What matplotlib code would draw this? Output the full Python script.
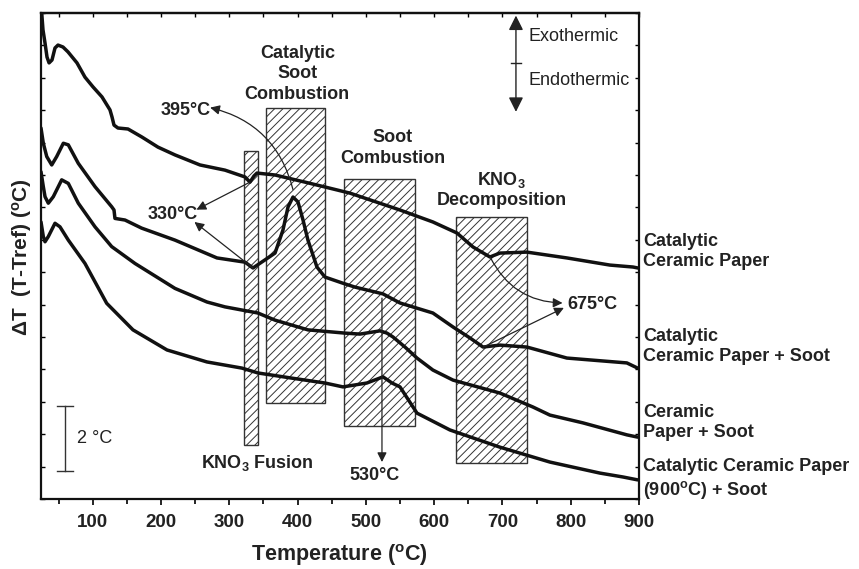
import numpy as np
import matplotlib
matplotlib.use("Agg")
import matplotlib.pyplot as plt
from matplotlib.patches import Rectangle
from matplotlib.ticker import MultipleLocator

plt.rcParams['font.family'] = ['Liberation Sans', 'DejaVu Sans']
plt.rcParams['mathtext.fontset'] = 'custom'
plt.rcParams['mathtext.rm'] = 'Liberation Sans'
plt.rcParams['mathtext.bf'] = 'Liberation Sans:bold'
plt.rcParams['mathtext.it'] = 'Liberation Sans:italic'
plt.rcParams['hatch.linewidth'] = 0.7

# ---------------- data ----------------
T1 = [24.3, 27.2, 30.2, 33.1, 36.1, 40.4, 44.8, 49.2, 56.5, 63.8, 77.0, 88.7, 100.4, 113.6,
      125.3, 128.3, 131.2, 137.0, 151.7, 172.2, 195.6, 220.5, 257.1, 293.7, 323.0, 330.3,
      336.2, 340.6, 367.0, 410.9, 440.1, 476.8, 549.9, 598.2, 633.4, 656.8, 681.7, 696.3,
      735.8, 794.4, 857.4, 891.1, 898.4]
Y1 = [15.3, 14.48, 14.07, 13.64, 13.46, 13.55, 13.92, 14.01, 13.95, 13.80, 13.46, 13.02, 12.72, 12.41,
      12.01, 11.79, 11.54, 11.45, 11.42, 11.17, 10.86, 10.62, 10.31, 10.15, 9.94, 9.78,
      9.97, 10.06, 10.00, 9.78, 9.63, 9.44, 8.92, 8.55, 8.21, 7.78, 7.47, 7.59,
      7.62, 7.44, 7.22, 7.16, 7.13]

T2 = [24.3, 27.7, 32.7, 40.0, 47.3, 57.0, 64.3, 78.9, 103.4, 127.8, 131.2, 132.6, 147.3, 171.7,
      220.5, 282.0, 323.0, 334.7, 352.3, 367.0, 378.6, 386.0, 393.3, 400.6, 408.0, 415.2,
      428.4, 440.1, 465.0, 484.1, 525.1, 550.0, 598.2, 627.6, 652.5, 671.6, 696.3, 735.8,
      794.4, 882.2, 898.0]
Y2 = [11.45, 10.98, 10.57, 10.31, 10.57, 10.98, 10.93, 10.36, 9.64, 9.02, 8.92, 8.66, 8.61, 8.36,
      7.99, 7.44, 7.31, 7.13, 7.38, 7.59, 8.30, 9.01, 9.32, 9.17, 8.61, 7.99,
      7.16, 6.85, 6.67, 6.54, 6.33, 6.05, 5.74, 5.31, 4.97, 4.69, 4.75, 4.69,
      4.35, 4.20, 4.04]

T3 = [24.3, 27.7, 30.2, 35.0, 42.3, 54.6, 64.3, 78.9, 103.4, 127.8, 161.9, 220.5, 267.4, 293.7,
      342.0, 367.0, 415.2, 469.4, 491.4, 520.7, 530.9, 539.8, 557.3, 574.9, 598.2, 627.6,
      696.3, 744.6, 769.5, 817.8, 882.2, 898.0]
Y3 = [10.1, 9.64, 9.33, 9.13, 9.33, 9.85, 9.74, 9.13, 8.40, 7.79, 7.27, 6.50, 6.08, 5.93,
      5.74, 5.52, 5.22, 5.12, 5.09, 5.19, 5.12, 5.00, 4.69, 4.35, 3.98, 3.67,
      3.27, 2.84, 2.59, 2.35, 1.98, 1.91]

T4 = [24.3, 27.7, 30.2, 35.0, 44.8, 52.1, 64.3, 88.7, 120.5, 159.0, 208.8, 267.3, 318.6, 342.0,
      391.8, 440.1, 466.5, 501.5, 525.1, 538.3, 550.0, 574.9, 623.2, 696.3, 769.5, 842.7,
      876.4, 898.0]
Y4 = [8.55, 8.10, 7.94, 8.10, 8.51, 8.40, 7.99, 7.27, 6.04, 5.22, 4.60, 4.23, 4.04, 3.89,
      3.73, 3.58, 3.46, 3.58, 3.77, 3.58, 3.46, 2.65, 2.13, 1.60, 1.14, 0.80,
      0.68, 0.59]

series_T = [T1, T2, T3, T4]
series_Y = [Y1, Y2, Y3, Y4]
series_names = ["Catalytic\nCeramic Paper",
                "Catalytic\nCeramic Paper + Soot",
                "Ceramic\nPaper + Soot",
                "Catalytic Ceramic Paper\n(900$^{\\mathbf{o}}$C) + Soot"]
label_y = [7.64, 4.71, 2.36, 0.59]

# hatched regions (temperature range and vertical extent)
box_left = [321, 354, 468, 632]
box_right = [342, 440, 572, 736]
box_bottom = [1.67, 2.96, 2.25, 1.11]
box_top = [10.74, 12.07, 9.88, 8.70]

xticks = [100, 200, 300, 400, 500, 600, 700, 800, 900]

# ---------------- figure ----------------
fig = plt.figure(figsize=(8.59, 5.69), dpi=100)
ax = fig.add_axes([41/859, 1-499/569, (639-41)/859, (499-13)/569])
ax.set_xlim(24.3, 900)
ax.set_ylim(0, 15)

for l, r, b, t in zip(box_left, box_right, box_bottom, box_top):
    ax.add_patch(Rectangle((l, b), r - l, t - b, facecolor='white', edgecolor='#333333',
                           hatch='////', lw=1.0, zorder=1))

for Tx, Yy in zip(series_T, series_Y):
    ax.plot(Tx, Yy, color='#111111', lw=2.5, solid_joinstyle='round',
            solid_capstyle='round', zorder=3)

bold = dict(fontsize=13, fontweight='bold', color='#222222')

for name, yv in zip(series_names, label_y):
    ax.text(906, yv, name, ha='left', va='center', linespacing=1.25, clip_on=False, **bold)

ax.text(399.6, 13.12, "Catalytic\nSoot\nCombustion", ha='center', va='center',
        multialignment='center', linespacing=1.25, **bold)
ax.text(539.4, 10.83, "Soot\nCombustion", ha='center', va='center',
        multialignment='center', linespacing=1.25, **bold)
ax.text(698.8, 9.55, "KNO$_\\mathbf{3}$\nDecomposition", ha='center', va='center',
        multialignment='center', linespacing=1.2, **bold)
ax.text(340.6, 1.11, "KNO$_\\mathbf{3}$ Fusion", ha='center', va='center', **bold)
ax.text(236.6, 12.0, "395°C", ha='center', va='center', **bold)
ax.text(217.6, 8.77, "330°C", ha='center', va='center', **bold)
ax.text(513.3, 0.71, "530°C", ha='center', va='center', **bold)
ax.text(832.5, 5.99, "675°C", ha='center', va='center', **bold)

thin = dict(arrowstyle='-|>', color='#222222', lw=0.9, mutation_scale=14,
            shrinkA=0, shrinkB=0)
# 395 curved arrow
ax.annotate('', xy=(272, 12.08), xytext=(393.3, 9.55),
            arrowprops=dict(connectionstyle='arc3,rad=0.3', **thin))
# 330 arrows
ax.annotate('', xy=(252, 8.93), xytext=(330.3, 9.78), arrowprops=thin)
ax.annotate('', xy=(249, 8.55), xytext=(334.7, 7.13), arrowprops=thin)
# 675 arrows
ax.annotate('', xy=(788, 6.05), xytext=(682, 7.47),
            arrowprops=dict(connectionstyle='arc3,rad=0.3', **thin))
ax.annotate('', xy=(790, 5.9), xytext=(672, 4.69), arrowprops=thin)
# 530 arrow
ax.annotate('', xy=(523.6, 1.14), xytext=(523.6, 6.2), arrowprops=thin)

# exo/endo arrow
ax.annotate('', xy=(719.8, 14.92), xytext=(719.8, 11.95),
            arrowprops=dict(arrowstyle='<|-|>', color='#222222', lw=1.0,
                            mutation_scale=22, shrinkA=0, shrinkB=0))
ax.plot([713, 727], [13.46, 13.46], color='#222222', lw=1.0)
ax.text(737.8, 14.26, "Exothermic", ha='left', va='center', fontsize=13, color='#222222')
ax.text(737.8, 12.93, "Endothermic", ha='left', va='center', fontsize=13, color='#222222')

# 2 °C scale bar
ax.plot([59.5, 59.5], [0.86, 2.87], color='#333333', lw=1.0)
ax.plot([47.7, 71.2], [2.87, 2.87], color='#333333', lw=1.0)
ax.plot([47.7, 71.2], [0.86, 0.86], color='#333333', lw=1.0)
ax.text(77.3, 1.88, "2 °C", ha='left', va='center', fontsize=13, color='#222222')

# axes styling
for s in ax.spines.values():
    s.set_linewidth(1.6)
    s.set_color('#111111')
ax.set_xticks(xticks)
ax.set_xticklabels([str(v) for v in xticks])
ax.xaxis.set_minor_locator(MultipleLocator(50))
ax.tick_params(axis='x', which='major', direction='out', length=4, width=1.2, pad=7,
               labelsize=13.5)
ax.tick_params(axis='x', which='minor', direction='out', length=3.5, width=1.2)
for lab in ax.get_xticklabels():
    lab.set_fontweight('bold')
    lab.set_color('#222222')
ax.set_yticks(np.arange(0, 16, 1))
ax.tick_params(axis='y', which='both', left=True, right=True, direction='in', length=3,
               width=1.0, labelleft=False)
sec = ax.secondary_xaxis('top')
sec.set_xticks(np.arange(50, 901, 50))
sec.tick_params(direction='in', length=3, width=1.0, labeltop=False)
sec.spines['top'].set_linewidth(1.6)

fig.text(339/859, 1-555/569, "Temperature ($^{\\mathbf{o}}$C)", ha='center', va='center',
         fontsize=15.5, fontweight='bold', color='#222222')
fig.text(22.5/859, 1-257/569, "ΔT  (T-Tref) ($^{\\mathbf{o}}$C)", ha='center', va='center',
         rotation=90, fontsize=15, fontweight='bold', color='#222222')

fig.savefig("out.png", dpi=100)
